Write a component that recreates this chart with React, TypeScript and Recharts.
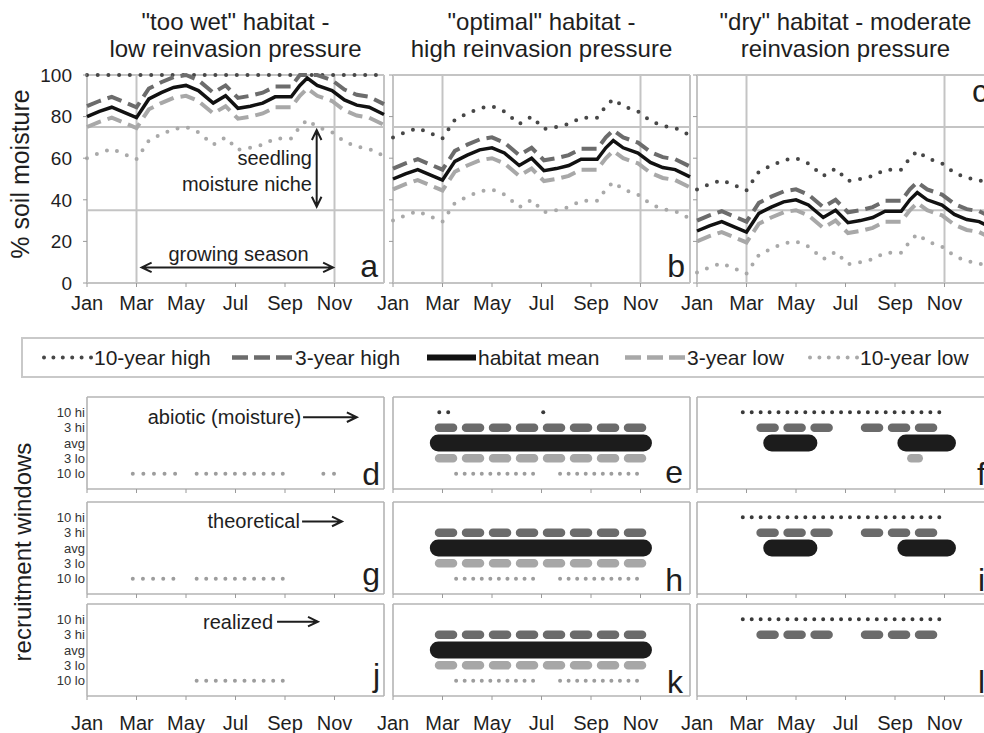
import React from 'react';
import { LineChart, Line, XAxis, YAxis, CartesianGrid, ReferenceLine, ReferenceDot } from 'recharts';

const FONT = '"Liberation Sans", Arial, Helvetica, sans-serif';
const INK = '#1e1e1e';

// ---------- axes / labels ----------
const monthTicks = [0, 2, 4, 6, 8, 10];
const monthLabels = ['Jan', 'Mar', 'May', 'Jul', 'Sep', 'Nov'];
const moistureTicks = [0, 20, 40, 60, 80, 100];
const nicheLimits = [35, 75];
const seasonLimits = [2, 10];
const rowLevels = [5, 4, 3, 2, 1];
const rowLabels = ['10 hi', '3 hi', 'avg', '3 lo', '10 lo'];

const panelTitles = [
  ['"too wet" habitat -', 'low reinvasion pressure'],
  ['"optimal" habitat -', 'high reinvasion pressure'],
  ['"dry" habitat - moderate', 'reinvasion pressure'],
];
const legendLabels = ['10-year high', '3-year high', 'habitat mean', '3-year low', '10-year low'];

// ---------- soil moisture curves (months since 1 Jan) ----------
const months = [0, 0.5, 1, 1.5, 2, 2.5, 3, 3.5, 4, 4.5, 5.1, 5.6, 6.1, 6.6, 7.1, 7.6, 8.25, 8.6, 8.9, 9.3, 9.9, 10.4, 10.9, 11.4, 12];

const wetHigh10 = [100, 100, 100, 100, 100, 100, 100, 100, 100, 100, 100, 100, 100, 100, 100, 100, 100, 100, 100, 100, 100, 100, 100, 100, 100];
const wetHigh3 = [85, 87.5, 89.5, 87, 84.5, 93.5, 96.5, 99, 100, 97.5, 91.5, 95, 89, 90, 91.5, 94.5, 94.5, 100, 100, 100, 97.5, 93, 90.5, 89.5, 86];
const wetMean = [80, 82.5, 84.5, 82, 79.5, 88.5, 91.5, 94, 95, 92.5, 86.5, 90, 84, 85, 86.5, 89.5, 89.5, 95, 98.5, 95, 92.5, 88, 85.5, 84.5, 81];
const wetLow3 = [75, 77.5, 79.5, 77, 74.5, 83.5, 86.5, 89, 90, 87.5, 81.5, 85, 79, 80, 81.5, 84.5, 84.5, 90, 93.5, 90, 87.5, 83, 80.5, 79.5, 76];
const wetLow10 = [60, 62.5, 64.5, 62, 59.5, 68.5, 71.5, 74, 75, 72.5, 66.5, 70, 64, 65, 66.5, 69.5, 69.5, 75, 78.5, 75, 72.5, 68, 65.5, 64.5, 61];

const optHigh10 = [70, 72.5, 74.5, 72, 69.5, 78.5, 81.5, 84, 85, 82.5, 76.5, 80, 74, 75, 76.5, 79.5, 79.5, 85, 88.5, 85, 82.5, 78, 75.5, 74.5, 71];
const optHigh3 = [55, 57.5, 59.5, 57, 54.5, 63.5, 66.5, 69, 70, 67.5, 61.5, 65, 59, 60, 61.5, 64.5, 64.5, 70, 73.5, 70, 67.5, 63, 60.5, 59.5, 56];
const optMean = [50, 52.5, 54.5, 52, 49.5, 58.5, 61.5, 64, 65, 62.5, 56.5, 60, 54, 55, 56.5, 59.5, 59.5, 65, 68.5, 65, 62.5, 58, 55.5, 54.5, 51];
const optLow3 = [45, 47.5, 49.5, 47, 44.5, 53.5, 56.5, 59, 60, 57.5, 51.5, 55, 49, 50, 51.5, 54.5, 54.5, 60, 63.5, 60, 57.5, 53, 50.5, 49.5, 46];
const optLow10 = [30, 32.5, 34.5, 32, 29.5, 38.5, 41.5, 44, 45, 42.5, 36.5, 40, 34, 35, 36.5, 39.5, 39.5, 45, 48.5, 45, 42.5, 38, 35.5, 34.5, 31];

const dryHigh10 = [45, 47.5, 49.5, 47, 44.5, 53.5, 56.5, 59, 60, 57.5, 51.5, 55, 49, 50, 51.5, 54.5, 54.5, 60, 63.5, 60, 57.5, 53, 50.5, 49.5, 46];
const dryHigh3 = [30, 32.5, 34.5, 32, 29.5, 38.5, 41.5, 44, 45, 42.5, 36.5, 40, 34, 35, 36.5, 39.5, 39.5, 45, 48.5, 45, 42.5, 38, 35.5, 34.5, 31];
const dryMean = [25, 27.5, 29.5, 27, 24.5, 33.5, 36.5, 39, 40, 37.5, 31.5, 35, 29, 30, 31.5, 34.5, 34.5, 40, 43.5, 40, 37.5, 33, 30.5, 29.5, 26];
const dryLow3 = [20, 22.5, 24.5, 22, 19.5, 28.5, 31.5, 34, 35, 32.5, 26.5, 30, 24, 25, 26.5, 29.5, 29.5, 35, 38.5, 35, 32.5, 28, 25.5, 24.5, 21];
const dryLow10 = [5, 7.5, 9.5, 7, 4.5, 13.5, 16.5, 19, 20, 17.5, 11.5, 15, 9, 10, 11.5, 14.5, 14.5, 20, 23.5, 20, 17.5, 13, 10.5, 9.5, 6];

// ---------- recruitment windows (months since 1 Jan) ----------
type Win = { row: string; from: number; to: number; dots?: number };

const abioticWet: Win[] = [
  { row: '10 lo', from: 1.85, to: 3.56, dots: 5 },
  { row: '10 lo', from: 4.43, to: 7.91, dots: 10 },
  { row: '10 lo', from: 9.55, to: 9.98, dots: 2 },
];
const theoreticalWet: Win[] = [
  { row: '10 lo', from: 1.85, to: 3.49, dots: 5 },
  { row: '10 lo', from: 4.43, to: 7.91, dots: 10 },
];
const realizedWet: Win[] = [
  { row: '10 lo', from: 4.43, to: 7.91, dots: 10 },
];
const abioticOptimal: Win[] = [
  { row: '10 hi', from: 1.87, to: 2.23, dots: 2 },
  { row: '10 hi', from: 6.07, to: 6.07, dots: 1 },
  { row: '3 hi', from: 1.86, to: 10.09 },
  { row: 'avg', from: 1.83, to: 10.12 },
  { row: '3 lo', from: 1.86, to: 10.09 },
  { row: '10 lo', from: 2.55, to: 5.66, dots: 10 },
  { row: '10 lo', from: 6.75, to: 9.86, dots: 10 },
];
const theoreticalOptimal: Win[] = [
  { row: '3 hi', from: 1.86, to: 10.09 },
  { row: 'avg', from: 1.83, to: 10.12 },
  { row: '3 lo', from: 1.86, to: 10.09 },
  { row: '10 lo', from: 2.55, to: 5.66, dots: 10 },
  { row: '10 lo', from: 6.75, to: 9.86, dots: 10 },
];
const realizedOptimal: Win[] = [
  { row: '3 hi', from: 1.86, to: 10.09 },
  { row: 'avg', from: 1.83, to: 10.12 },
  { row: '3 lo', from: 1.86, to: 10.09 },
  { row: '10 lo', from: 2.55, to: 5.66, dots: 10 },
  { row: '10 lo', from: 6.75, to: 9.86, dots: 10 },
];
const abioticDry: Win[] = [
  { row: '10 hi', from: 1.85, to: 9.79, dots: 23 },
  { row: '3 hi', from: 2.57, to: 5.39 },
  { row: '3 hi', from: 6.79, to: 9.59 },
  { row: 'avg', from: 3.02, to: 4.52 },
  { row: 'avg', from: 8.44, to: 10.12 },
  { row: '3 lo', from: 8.66, to: 8.96 },
];
const theoreticalDry: Win[] = [
  { row: '10 hi', from: 1.85, to: 9.79, dots: 23 },
  { row: '3 hi', from: 2.57, to: 5.39 },
  { row: '3 hi', from: 6.79, to: 9.59 },
  { row: 'avg', from: 3.02, to: 4.52 },
  { row: 'avg', from: 8.44, to: 10.12 },
];
const realizedDry: Win[] = [
  { row: '10 hi', from: 1.85, to: 9.79, dots: 23 },
  { row: '3 hi', from: 2.57, to: 5.39 },
  { row: '3 hi', from: 6.79, to: 9.59 },
];

// ---------- styling ----------
const PLOT_W = 297;
const PX_PER_MONTH = PLOT_W / 12;
const Y_AXIS_W = 88;
const RIGHT_M = 10;

const seriesStyle: Record<string, any> = {
  h10: { stroke: '#474747', strokeWidth: 4, strokeDasharray: '0 10.7', strokeLinecap: 'round' },
  l10: { stroke: '#a9a9a9', strokeWidth: 4, strokeDasharray: '0 10.7', strokeLinecap: 'round' },
  l3: { stroke: '#a8a8a8', strokeWidth: 4, strokeDasharray: '15 7' },
  h3: { stroke: '#6c6c6c', strokeWidth: 4, strokeDasharray: '15 7' },
  mean: { stroke: '#111111', strokeWidth: 3.5 },
};
const seriesOrder = ['h10', 'l10', 'l3', 'h3', 'mean'];

const rowStyle: Record<string, any> = {
  '10 hi': { stroke: '#3a3a3a', width: 4, kind: 'dot' },
  '3 hi': { stroke: '#6b6b6b', width: 8.5, kind: 'dash' },
  avg: { stroke: '#1c1c1c', width: 17, kind: 'solid' },
  '3 lo': { stroke: '#a7a7a7', width: 8.5, kind: 'dash' },
  '10 lo': { stroke: '#9d9d9d', width: 4, kind: 'dot' },
};

const buildTable = (h10: number[], h3: number[], mean: number[], l3: number[], l10: number[]) =>
  months.map((m, i) => ({ m, h10: h10[i], h3: h3[i], mean: mean[i], l3: l3[i], l10: l10[i] }));

const wetTable = buildTable(wetHigh10, wetHigh3, wetMean, wetLow3, wetLow10);
const optTable = buildTable(optHigh10, optHigh3, optMean, optLow3, optLow10);
const dryTable = buildTable(dryHigh10, dryHigh3, dryMean, dryLow3, dryLow10);

// ---------- annotation shapes ----------
const arrowShape = (both: boolean, head = 10) => (p: any) => {
  const { x1, y1, x2, y2 } = p;
  const a = Math.atan2(y2 - y1, x2 - x1);
  const mk = (x: number, y: number, ang: number) => {
    const b1 = ang + Math.PI - 0.45;
    const b2 = ang + Math.PI + 0.45;
    return `M${x + head * Math.cos(b1)},${y + head * Math.sin(b1)} L${x},${y} L${x + head * Math.cos(b2)},${y + head * Math.sin(b2)}`;
  };
  let d = `M${x1},${y1} L${x2},${y2} ${mk(x2, y2, a)}`;
  if (both) d += ` ${mk(x1, y1, a + Math.PI)}`;
  return <path d={d} stroke={INK} strokeWidth={2} fill="none" strokeLinejoin="miter" />;
};

const textShape = (label: string, anchor: string, size: number, baseline = 'central') => (p: any) => (
  <text x={p.cx} y={p.cy} textAnchor={anchor} dominantBaseline={baseline} fontSize={size} fontFamily={FONT} fill={INK}>
    {label}
  </text>
);

const monthFmt = (v: number) => monthLabels[monthTicks.indexOf(v)] ?? '';

type Letter = { text: string; x: number; y: number; anchor: string };

function MoisturePanel({ plotLeft, data, yLabels, letter, children }: { plotLeft: number; data: any[]; yLabels: boolean; letter: Letter; children?: React.ReactNode }) {
  return (
    <div style={{ position: 'absolute', left: plotLeft - Y_AXIS_W, top: 65 }}>
      <LineChart width={Y_AXIS_W + PLOT_W + RIGHT_M} height={10 + 208 + 45} data={data} margin={{ top: 10, right: RIGHT_M, bottom: 0, left: 0 }}>
        <CartesianGrid horizontalValues={[0, nicheLimits[0], nicheLimits[1], 100]} verticalValues={[0, seasonLimits[0], seasonLimits[1], 12]} stroke="#c4c4c4" strokeWidth={2} />
        <XAxis dataKey="m" type="number" domain={[0, 12]} ticks={monthTicks} interval={0} height={45} axisLine={false} tickLine={{ stroke: '#9a9a9a' }} tickSize={4} tickMargin={9} tickFormatter={monthFmt} tick={{ fontSize: 20, fill: INK, fontFamily: FONT }} />
        <YAxis type="number" domain={[0, 100]} ticks={moistureTicks} interval={0} width={Y_AXIS_W} axisLine={false} tickLine={{ stroke: '#9a9a9a' }} tickSize={4} tickMargin={11} tickFormatter={(v: number) => (yLabels ? String(v) : '')} tick={{ fontSize: 19, fill: INK, fontFamily: FONT }} />
        {seriesOrder.map((k) => (
          <Line key={k} dataKey={k} type="linear" dot={false} activeDot={false} isAnimationActive={false} legendType="none" {...seriesStyle[k]} />
        ))}
        {children}
        <ReferenceDot x={letter.x} y={letter.y} r={0} shape={textShape(letter.text, letter.anchor, 32, 'auto')} />
      </LineChart>
    </div>
  );
}

type Note = { text: string; textEnd: number; arrowFrom: number; arrowTo: number; y: number };

function WindowPanel({ plotLeft, plotTop, windows, yLabels, xLabels, letter, note }: { plotLeft: number; plotTop: number; windows: Win[]; yLabels: boolean; xLabels: boolean; letter: Letter; note?: Note }) {
  const xAxisH = xLabels ? 40 : 10;
  return (
    <div style={{ position: 'absolute', left: plotLeft - Y_AXIS_W, top: plotTop - 5 }}>
      <LineChart width={Y_AXIS_W + PLOT_W + RIGHT_M} height={5 + 92 + xAxisH} margin={{ top: 5, right: RIGHT_M, bottom: 0, left: 0 }}>
        <CartesianGrid horizontalValues={[0, 6]} verticalValues={[0, 12]} stroke="#b4b4b4" strokeWidth={1.6} />
        <XAxis dataKey="x" type="number" domain={[0, 12]} ticks={monthTicks} interval={0} height={xAxisH} axisLine={false} tickLine={{ stroke: '#9a9a9a' }} tickSize={4} tickMargin={16} tickFormatter={(v: number) => (xLabels ? monthFmt(v) : '')} tick={{ fontSize: 20, fill: INK, fontFamily: FONT }} />
        <YAxis type="number" domain={[0, 6]} ticks={rowLevels} interval={0} width={Y_AXIS_W} axisLine={false} tickLine={false} tickSize={0} tickMargin={2} tickFormatter={(v: number) => (yLabels ? rowLabels[rowLevels.indexOf(v)] : '')} tick={{ fontSize: 13, fill: '#333', fontFamily: FONT }} />
        {windows.map((w, i) => {
          const st = rowStyle[w.row];
          const level = rowLevels[rowLabels.indexOf(w.row)];
          let dash: string | undefined;
          let to = w.to;
          if (st.kind === 'dot') {
            const n = w.dots ?? 1;
            const gap = n > 1 ? ((w.to - w.from) * PX_PER_MONTH) / (n - 1) : 60;
            dash = `0 ${gap.toFixed(3)}`;
            to = n > 1 ? w.to + 0.01 : w.from + 0.01;
          } else if (st.kind === 'dash') {
            dash = '14 13';
          }
          return (
            <Line
              key={i}
              data={[{ x: w.from, y: level }, { x: to, y: level }]}
              dataKey="y"
              type="linear"
              stroke={st.stroke}
              strokeWidth={st.width}
              strokeLinecap="round"
              strokeDasharray={dash}
              dot={false}
              activeDot={false}
              isAnimationActive={false}
              legendType="none"
            />
          );
        })}
        {note && <ReferenceDot x={note.textEnd} y={note.y} r={0} shape={textShape(note.text, 'end', 20)} />}
        {note && <ReferenceLine segment={[{ x: note.arrowFrom, y: note.y }, { x: note.arrowTo, y: note.y }]} shape={arrowShape(false, 11)} />}
        <ReferenceDot x={letter.x} y={letter.y} r={0} shape={textShape(letter.text, letter.anchor, 32, 'auto')} />
      </LineChart>
    </div>
  );
}

function LegendStrip() {
  const y = 357.5;
  const items = [
    { x1: 44, x2: 91, tx: 94, st: { stroke: '#474747', strokeWidth: 4, strokeDasharray: '0 9.4', strokeLinecap: 'round' } },
    { x1: 232, x2: 292, tx: 295, st: { stroke: '#6c6c6c', strokeWidth: 4.5, strokeDasharray: '16 6' } },
    { x1: 427, x2: 476, tx: 478, st: { stroke: '#111', strokeWidth: 6 } },
    { x1: 625, x2: 685, tx: 687, st: { stroke: '#a8a8a8', strokeWidth: 4.5, strokeDasharray: '16 6' } },
    { x1: 810, x2: 857, tx: 860, st: { stroke: '#a9a9a9', strokeWidth: 4, strokeDasharray: '0 9.4', strokeLinecap: 'round' } },
  ];
  return (
    <g>
      <rect x={22} y={338} width={1000} height={39} fill="none" stroke="#c9c9c9" strokeWidth={2} />
      {items.map((it, i) => (
        <g key={i}>
          <line x1={it.x1} y1={y} x2={it.x2} y2={y} {...(it.st as any)} />
          <text x={it.tx} y={y} dominantBaseline="central" fontSize={21} fontFamily={FONT} fill={INK}>
            {legendLabels[i]}
          </text>
        </g>
      ))}
    </g>
  );
}

export default function App() {
  const plotLefts = [87, 393, 697];
  const titleCenters = plotLefts.map((l) => l + PLOT_W / 2);
  const rowTops = [397, 501.5, 604];
  return (
    <div style={{ position: 'absolute', left: 0, top: 0, width: 984, height: 733, overflow: 'hidden', background: '#fff', fontFamily: FONT }}>
      <MoisturePanel plotLeft={plotLefts[0]} data={wetTable} yLabels letter={{ text: 'a', x: 11.76, y: 2.9, anchor: 'end' }}>
        <ReferenceLine segment={[{ x: 2.21, y: 7.5 }, { x: 9.94, y: 7.5 }]} shape={arrowShape(true, 11)} />
        <ReferenceDot x={6.12} y={13.9} r={0} shape={textShape('growing season', 'middle', 20)} />
        <ReferenceLine segment={[{ x: 9.28, y: 73.5 }, { x: 9.28, y: 36.7 }]} shape={arrowShape(true, 11)} />
        <ReferenceDot x={9.09} y={60.1} r={0} shape={textShape('seedling', 'end', 20)} />
        <ReferenceDot x={9.09} y={47.6} r={0} shape={textShape('moisture niche', 'end', 20)} />
      </MoisturePanel>
      <MoisturePanel plotLeft={plotLefts[1]} data={optTable} yLabels={false} letter={{ text: 'b', x: 11.8, y: 2.9, anchor: 'end' }} />
      <MoisturePanel plotLeft={plotLefts[2]} data={dryTable} yLabels={false} letter={{ text: 'c', x: 11.11, y: 87, anchor: 'start' }} />

      <WindowPanel plotLeft={plotLefts[0]} plotTop={rowTops[0]} windows={abioticWet} yLabels xLabels={false}
        letter={{ text: 'd', x: 11.84, y: 0.26, anchor: 'end' }}
        note={{ text: 'abiotic (moisture)', textEnd: 8.65, arrowFrom: 8.73, arrowTo: 10.9, y: 4.68 }} />
      <WindowPanel plotLeft={plotLefts[1]} plotTop={rowTops[0]} windows={abioticOptimal} yLabels={false} xLabels={false}
        letter={{ text: 'e', x: 11.72, y: 0.39, anchor: 'end' }} />
      <WindowPanel plotLeft={plotLefts[2]} plotTop={rowTops[0]} windows={abioticDry} yLabels={false} xLabels={false}
        letter={{ text: 'f', x: 11.31, y: 0.26, anchor: 'start' }} />

      <WindowPanel plotLeft={plotLefts[0]} plotTop={rowTops[1]} windows={theoreticalWet} yLabels xLabels={false}
        letter={{ text: 'g', x: 11.84, y: 0.59, anchor: 'end' }}
        note={{ text: 'theoretical', textEnd: 8.6, arrowFrom: 8.69, arrowTo: 10.3, y: 4.73 }} />
      <WindowPanel plotLeft={plotLefts[1]} plotTop={rowTops[1]} windows={theoreticalOptimal} yLabels={false} xLabels={false}
        letter={{ text: 'h', x: 11.72, y: 0.2, anchor: 'end' }} />
      <WindowPanel plotLeft={plotLefts[2]} plotTop={rowTops[1]} windows={theoreticalDry} yLabels={false} xLabels={false}
        letter={{ text: 'i', x: 11.35, y: 0.2, anchor: 'start' }} />

      <WindowPanel plotLeft={plotLefts[0]} plotTop={rowTops[2]} windows={realizedWet} yLabels xLabels
        letter={{ text: 'j', x: 11.84, y: 0.65, anchor: 'end' }}
        note={{ text: 'realized', textEnd: 7.52, arrowFrom: 7.68, arrowTo: 9.33, y: 4.85 }} />
      <WindowPanel plotLeft={plotLefts[1]} plotTop={rowTops[2]} windows={realizedOptimal} yLabels={false} xLabels
        letter={{ text: 'k', x: 11.72, y: 0.2, anchor: 'end' }} />
      <WindowPanel plotLeft={plotLefts[2]} plotTop={rowTops[2]} windows={realizedDry} yLabels={false} xLabels
        letter={{ text: 'l', x: 11.35, y: 0.2, anchor: 'start' }} />

      <svg width={984} height={733} style={{ position: 'absolute', left: 0, top: 0, pointerEvents: 'none' }}>
        {panelTitles.map((t, i) => (
          <g key={i}>
            <text x={titleCenters[i]} y={30} textAnchor="middle" fontSize={24} fontFamily={FONT} fill={INK}>{t[0]}</text>
            <text x={titleCenters[i]} y={57} textAnchor="middle" fontSize={24} fontFamily={FONT} fill={INK}>{t[1]}</text>
          </g>
        ))}
        <text transform="translate(20,174) rotate(-90)" textAnchor="middle" dominantBaseline="central" fontSize={25} fontFamily={FONT} fill={INK}>% soil moisture</text>
        <text transform="translate(22,552) rotate(-90)" textAnchor="middle" dominantBaseline="central" fontSize={24} fontFamily={FONT} fill={INK}>recruitment windows</text>
        <LegendStrip />
      </svg>
    </div>
  );
}
